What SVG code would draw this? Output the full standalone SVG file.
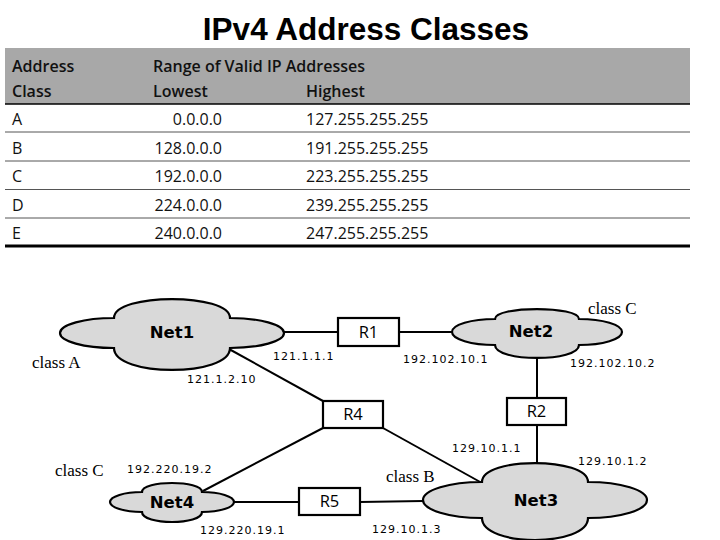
<svg xmlns="http://www.w3.org/2000/svg" width="720" height="540" viewBox="0 0 720 540">
<style>
.title{font-family:"Liberation Sans",Arial,sans-serif;font-weight:bold;font-size:31.5px;fill:#000}
.th{font-family:"Open Sans","DejaVu Sans",sans-serif;font-weight:600;font-size:16px;fill:#111}
.td{font-family:"Open Sans","DejaVu Sans",sans-serif;font-size:16px;fill:#111}
.rl{stroke:#555;stroke-width:1}
.cloud{fill:#d9d9d9;stroke:#000;stroke-width:2.2}
.box{fill:#fff;stroke:#000;stroke-width:2.2}
.conn line{stroke:#000;stroke-width:2}
.net{font-family:"DejaVu Sans",sans-serif;font-weight:bold;font-size:16.5px;fill:#000;text-anchor:middle}
.rt{font-family:"Open Sans","DejaVu Sans",sans-serif;font-size:16.5px;fill:#000;text-anchor:middle}
.ip{font-family:"DejaVu Sans",sans-serif;font-size:11px;letter-spacing:1px;fill:#000}
.cls{font-family:"Liberation Serif","Times New Roman",serif;font-size:17px;fill:#000}
</style>
<rect width="720" height="540" fill="#fff"/>
<text class="title" x="366" y="40" text-anchor="middle">IPv4 Address Classes</text>
<g id="table">
<rect x="5" y="48" width="685" height="56" fill="#a8a8a8"/>
<line x1="5" y1="104" x2="690" y2="104" stroke="#000" stroke-width="1.5"/>
<text class="th" x="12" y="72">Address</text>
<text class="th" x="12" y="97">Class</text>
<text class="th" x="153" y="72">Range of Valid IP Addresses</text>
<text class="th" x="153" y="97">Lowest</text>
<text class="th" x="306" y="97">Highest</text>
<text class="td" x="12" y="125">A</text>
<text class="td" x="222" y="125" text-anchor="end">0.0.0.0</text>
<text class="td" x="306" y="125">127.255.255.255</text>
<line class="rl" x1="5" y1="132" x2="690" y2="132"/>
<text class="td" x="12" y="154">B</text>
<text class="td" x="222" y="154" text-anchor="end">128.0.0.0</text>
<text class="td" x="306" y="154">191.255.255.255</text>
<line class="rl" x1="5" y1="161" x2="690" y2="161"/>
<text class="td" x="12" y="182">C</text>
<text class="td" x="222" y="182" text-anchor="end">192.0.0.0</text>
<text class="td" x="306" y="182">223.255.255.255</text>
<line class="rl" x1="5" y1="189.5" x2="690" y2="189.5"/>
<text class="td" x="12" y="211">D</text>
<text class="td" x="222" y="211" text-anchor="end">224.0.0.0</text>
<text class="td" x="306" y="211">239.255.255.255</text>
<line class="rl" x1="5" y1="218" x2="690" y2="218"/>
<text class="td" x="12" y="239">E</text>
<text class="td" x="222" y="239" text-anchor="end">240.0.0.0</text>
<text class="td" x="306" y="239">247.255.255.255</text>
<line x1="5" y1="246" x2="690" y2="246" stroke="#000" stroke-width="3"/>
</g>
<g id="connectors" class="conn">
<line x1="284" y1="332" x2="338" y2="332"/>
<line x1="399" y1="332" x2="452" y2="332"/>
<line x1="229" y1="349" x2="323" y2="401"/>
<line x1="323" y1="428" x2="203" y2="491"/>
<line x1="383" y1="428" x2="482" y2="483"/>
<line x1="537" y1="358" x2="537" y2="398"/>
<line x1="537" y1="425" x2="537" y2="463"/>
<line x1="234" y1="502" x2="299" y2="502"/>
<line x1="360" y1="502" x2="423" y2="501"/>
</g>
<g id="net1">
<path class="cloud" d="M 60,333 C 60,324.7 84.2,318 114,318 C 114,292.7 230,292.7 230,318 C 259.8,318 284,324.7 284,333 C 284,341.3 259.8,348 230,348 C 230,377.3 114,377.3 114,348 C 84.2,348 60,341.3 60,333 Z"/>
<text class="net" x="172" y="338">Net1</text>
</g>
<g id="net2">
<path class="cloud" d="M 452,332 C 452,324.8 471.3,319 495,319 C 495,305.7 579,305.7 579,319 C 602.7,319 622,324.8 622,332 C 622,339.2 602.7,345 579,345 C 579,362.3 495,362.3 495,345 C 471.3,345 452,339.2 452,332 Z"/>
<text class="net" x="531" y="337">Net2</text>
</g>
<g id="net3">
<path class="cloud" d="M 423,500 C 423,490.1 449.4,482 482,482 C 482,456.7 588,456.7 588,482 C 620.6,482 647,490.1 647,500 C 647,509.9 620.6,518 588,518 C 588,547.3 482,547.3 482,518 C 449.4,518 423,509.9 423,500 Z"/>
<text class="net" x="536" y="506">Net3</text>
</g>
<g id="net4">
<path class="cloud" d="M 110,502 C 110,496.5 124.3,492 142,492 C 142,480 202,480 202,492 C 219.7,492 234,496.5 234,502 C 234,507.5 219.7,512 202,512 C 202,525.3 142,525.3 142,512 C 124.3,512 110,507.5 110,502 Z"/>
<text class="net" x="172" y="508">Net4</text>
</g>
<g id="r1">
<rect class="box" x="338" y="318" width="61" height="28"/>
<text class="rt" x="368.5" y="338">R1</text>
</g>
<g id="r4">
<rect class="box" x="323" y="401" width="60" height="27"/>
<text class="rt" x="353" y="420">R4</text>
</g>
<g id="r2">
<rect class="box" x="507" y="398" width="59" height="27"/>
<text class="rt" x="536.5" y="417">R2</text>
</g>
<g id="r5">
<rect class="box" x="299" y="488" width="61" height="27"/>
<text class="rt" x="329.5" y="507">R5</text>
</g>
<g id="labels">
<text class="ip" x="273" y="360">121.1.1.1</text>
<text class="ip" x="187" y="383">121.1.2.10</text>
<text class="ip" x="403" y="363">192.102.10.1</text>
<text class="ip" x="570" y="367">192.102.10.2</text>
<text class="ip" x="127" y="473">192.220.19.2</text>
<text class="ip" x="200" y="534">129.220.19.1</text>
<text class="ip" x="452" y="452">129.10.1.1</text>
<text class="ip" x="578" y="465">129.10.1.2</text>
<text class="ip" x="372" y="533">129.10.1.3</text>
<text class="cls" x="588" y="314">class C</text>
<text class="cls" x="32" y="368">class A</text>
<text class="cls" x="55" y="476">class C</text>
<text class="cls" x="386" y="482">class B</text>
</g>
</svg>
